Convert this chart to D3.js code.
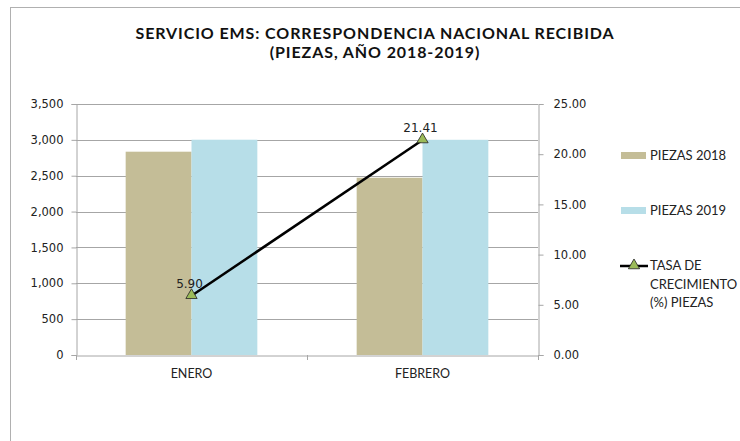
<!DOCTYPE html>
<html>
<head>
<meta charset="utf-8">
<script src="https://cdn.jsdelivr.net/npm/d3@7"></script>
<style>
body { margin: 0; background: #fff; }
svg { display: block; }
</style>
</head>
<body>
<div id="main_div"></div>
<script>
var months = ["ENERO", "FEBRERO"];
var piezas2018 = [2835, 2472];
var piezas2019 = [3002, 3001];
var tasa = [5.90, 21.41];
var leftTicks = [0, 500, 1000, 1500, 2000, 2500, 3000, 3500];
var rightTicks = [0, 5, 10, 15, 20, 25];

var colors = { p2018: "#c4bd97", p2019: "#b7dee8", marker: "#9bbb59", grid: "#a6a6a6" };

var svg = d3.select("#main_div").append("svg").attr("width", 740).attr("height", 441);

// outer frame
svg.append("rect").attr("x", 10.5).attr("y", 7.5).attr("width", 760).attr("height", 460)
    .attr("fill", "none").attr("stroke", "#b0b0b0").attr("stroke-width", 1);

var x0 = 76, x1 = 538, yTop = 104, yBot = 355;

var x_scale = d3.scaleBand().domain(months).range([x0, x1]).paddingInner(0.43).paddingOuter(0.215);
var y_scale = d3.scaleLinear().domain([0, 3500]).range([yBot, yTop]);
var y2_scale = d3.scaleLinear().domain([0, 25]).range([yBot, yTop]);
var cat_scale = d3.scaleBand().domain(months).range([x0, x1]);

// gridlines
svg.append("g").selectAll("line").data(leftTicks.slice(1)).enter().append("line")
    .attr("x1", x0).attr("x2", x1)
    .attr("y1", function(d) { return Math.round(y_scale(d)) + 0.5; })
    .attr("y2", function(d) { return Math.round(y_scale(d)) + 0.5; })
    .attr("stroke", colors.grid).attr("stroke-width", 1);

// bars
var bw = x_scale.bandwidth() / 2;
var g_bars = svg.append("g");
g_bars.selectAll("rect.b18").data(months).enter().append("rect").attr("class", "b18")
    .attr("x", function(d) { return x_scale(d); })
    .attr("y", function(d, i) { return y_scale(piezas2018[i]); })
    .attr("width", bw)
    .attr("height", function(d, i) { return yBot - y_scale(piezas2018[i]); })
    .attr("fill", colors.p2018);
g_bars.selectAll("rect.b19").data(months).enter().append("rect").attr("class", "b19")
    .attr("x", function(d) { return x_scale(d) + bw; })
    .attr("y", function(d, i) { return y_scale(piezas2019[i]); })
    .attr("width", bw)
    .attr("height", function(d, i) { return yBot - y_scale(piezas2019[i]); })
    .attr("fill", colors.p2019);

// axes
var g_y = svg.append("g").attr("transform", "translate(" + (x0 + 0.5) + ",0)")
    .call(d3.axisLeft(y_scale).tickValues(leftTicks).tickFormat(d3.format(",")).tickSizeOuter(0).tickSize(5).tickPadding(8));
var g_y2 = svg.append("g").attr("transform", "translate(" + (x1 + 0.5) + ",0)")
    .call(d3.axisRight(y2_scale).tickValues(rightTicks).tickFormat(d3.format(".2f")).tickSizeOuter(0).tickSize(5).tickPadding(10));
var g_x = svg.append("g").attr("transform", "translate(0," + (yBot + 0.5) + ")")
    .call(d3.axisBottom(cat_scale).tickSize(0).tickSizeOuter(0).tickPadding(14));

[g_y, g_y2].forEach(function(g) {
    g.select(".domain").attr("stroke", colors.grid);
    g.selectAll(".tick line").attr("stroke", colors.grid);
    g.selectAll("text").attr("font-family", "DejaVu Sans").attr("font-size", "11.5px").attr("fill", "#222");
});
g_x.select(".domain").attr("stroke", colors.grid);
g_x.selectAll("text").attr("font-family", "Lato, 'Open Sans', sans-serif").attr("font-size", "12.5px").attr("fill", "#222");
// category boundary ticks
svg.append("g").selectAll("line").data([x0, cat_scale("FEBRERO"), x1]).enter().append("line")
    .attr("x1", function(d) { return Math.round(d) + 0.5; })
    .attr("x2", function(d) { return Math.round(d) + 0.5; })
    .attr("y1", yBot).attr("y2", yBot + 5)
    .attr("stroke", colors.grid);

// line series
var pts = months.map(function(m, i) {
    return [x_scale(m) + bw, y2_scale(tasa[i])];
});
svg.append("path").attr("d", d3.line()(pts))
    .attr("fill", "none").attr("stroke", "#000").attr("stroke-width", 2.5);
var tri = d3.symbol().type(d3.symbolTriangle).size(55);
svg.append("g").selectAll("path").data(pts).enter().append("path")
    .attr("d", tri)
    .attr("transform", function(d) { return "translate(" + d[0] + "," + (d[1] - 0.5) + ")"; })
    .attr("fill", colors.marker).attr("stroke", "#222").attr("stroke-width", 0.8);
svg.append("g").selectAll("text").data(pts).enter().append("text")
    .attr("x", function(d) { return d[0] - 2; })
    .attr("y", function(d) { return d[1] - 8; })
    .attr("text-anchor", "middle")
    .attr("font-family", "DejaVu Sans").attr("font-size", "12px").attr("fill", "#222")
    .text(function(d, i) { return tasa[i].toFixed(2); });

// title
var title = svg.append("text").attr("x", 375).attr("text-anchor", "middle")
    .attr("font-family", "Lato, 'Open Sans', sans-serif").attr("font-weight", "bold")
    .attr("font-size", "16px").attr("letter-spacing", "0.9px").attr("fill", "#111");
title.append("tspan").attr("x", 375).attr("y", 39).text("SERVICIO EMS: CORRESPONDENCIA  NACIONAL RECIBIDA");
title.append("tspan").attr("x", 375).attr("y", 58).text("(PIEZAS, AÑO 2018-2019)");

// legend
var lg = svg.append("g").attr("font-family", "Lato, 'Open Sans', sans-serif").attr("font-size", "13px").attr("fill", "#222");
lg.append("rect").attr("x", 621).attr("y", 152).attr("width", 25).attr("height", 7).attr("fill", colors.p2018);
lg.append("text").attr("x", 650).attr("y", 160).text("PIEZAS 2018");
lg.append("rect").attr("x", 621).attr("y", 207).attr("width", 25).attr("height", 7).attr("fill", colors.p2019);
lg.append("text").attr("x", 650).attr("y", 215).text("PIEZAS 2019");
lg.append("line").attr("x1", 620).attr("x2", 648).attr("y1", 266).attr("y2", 266)
    .attr("stroke", "#000").attr("stroke-width", 2.5);
lg.append("path").attr("d", tri).attr("transform", "translate(634,265.5)")
    .attr("fill", colors.marker).attr("stroke", "#222").attr("stroke-width", 0.8);
var lt = lg.append("text");
lt.append("tspan").attr("x", 650).attr("y", 270).text("TASA DE");
lt.append("tspan").attr("x", 650).attr("y", 289).text("CRECIMIENTO");
lt.append("tspan").attr("x", 650).attr("y", 307).text("(%) PIEZAS");
</script>
</body>
</html>
